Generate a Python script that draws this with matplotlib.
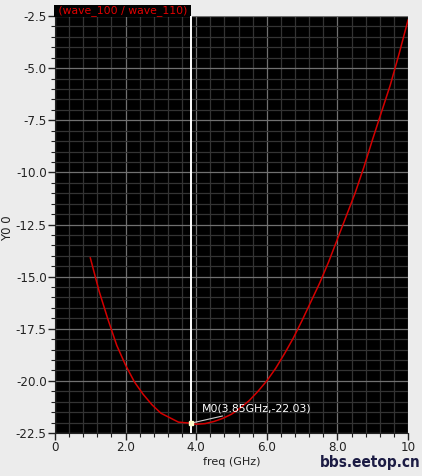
import matplotlib.pyplot as plt
from matplotlib.ticker import MultipleLocator, FixedLocator, FixedFormatter

plt.rcParams['axes.unicode_minus'] = False

# curve
freq = [1.0, 1.25, 1.5, 1.75, 2.0, 2.25, 2.5, 2.75, 3.0, 3.5, 3.85, 4.0, 4.25,
        4.5, 4.75, 5.0, 5.25, 5.5, 5.75, 6.0, 6.25, 6.5, 6.75, 7.0, 7.25, 7.5,
        7.75, 8.0, 8.25, 8.5, 8.75, 9.0, 9.25, 9.5, 9.75, 10.0]
y00 = [-14.1, -15.7, -17.05, -18.3, -19.25, -20.05, -20.65, -21.15, -21.55,
       -21.98, -22.03, -22.08, -22.05, -21.95, -21.8, -21.6, -21.3, -20.95,
       -20.5, -20.0, -19.4, -18.7, -17.95, -17.1, -16.2, -15.3, -14.3, -13.2,
       -12.1, -11.0, -9.75, -8.4, -7.1, -5.8, -4.3, -2.7]

marker_x = 3.85
marker_y = -22.03

xticks = [0, 2, 4, 6, 8, 10]
xlabels = ['0', '2.0', '4.0', '6.0', '8.0', '10']
yticks = [-22.5, -20.0, -17.5, -15.0, -12.5, -10.0, -7.5, -5.0, -2.5]

fig = plt.figure(figsize=(4.22, 4.76), dpi=100, facecolor='#ececec')
ax = fig.add_axes([55/422, 1 - 433/476, 353/422, 417/476])
ax.set_facecolor('black')

ax.plot(freq, y00, color='#d40000', linewidth=1.1, zorder=3)
ax.axvline(marker_x, color='white', linewidth=1.4, zorder=4)
ax.plot([marker_x], [marker_y], 's', color='#ffffcc', markersize=2.5, zorder=5)
ax.annotate(f'M0({marker_x}GHz,{marker_y})', xy=(marker_x, marker_y),
            xytext=(11, 15), textcoords='offset pixels', ha='left', va='center',
            color='white', fontsize=7.8,
            arrowprops=dict(arrowstyle='-', color='#cccccc', linewidth=0.8,
                            shrinkA=0, shrinkB=1))

ax.set_xlim(0, 10)
ax.set_ylim(-22.5, -2.5)
ax.xaxis.set_major_locator(FixedLocator(xticks))
ax.xaxis.set_major_formatter(FixedFormatter(xlabels))
ax.xaxis.set_minor_locator(MultipleLocator(0.4))
ax.yaxis.set_major_locator(FixedLocator(yticks))
ax.yaxis.set_major_formatter(FixedFormatter([f'{v:.1f}' for v in yticks]))
ax.yaxis.set_minor_locator(MultipleLocator(0.5))

ax.grid(True, which='major', color='#707070', linewidth=0.9)
ax.grid(True, which='minor', color='#333333', linewidth=0.9)
ax.set_axisbelow(True)
ax.tick_params(which='major', length=5, width=1, colors='#222222', labelsize=8.6, pad=1)
ax.tick_params(which='minor', length=3, width=0.8, colors='#222222')
for sp in ax.spines.values():
    sp.set_visible(False)
ax.spines['left'].set_visible(True)
ax.spines['bottom'].set_visible(True)
ax.spines['left'].set_color('#222222')
ax.spines['bottom'].set_color('#222222')

ax.set_xlabel('freq (GHz)', fontsize=8, labelpad=2, color='#222222')
ax.set_ylabel('Y0 0', fontsize=8.5, color='#222222')
ax.yaxis.set_label_coords(-0.115, 0.49)

ax.text(0, 1.0, ' (wave_100 / wave_110) ', transform=ax.transAxes, ha='left', va='bottom',
        color='#e00000', fontsize=7.8, clip_on=False,
        bbox=dict(facecolor='black', edgecolor='none', pad=0.4))

fig.text(0.997, 0.012, 'bbs.eetop.cn', ha='right', va='bottom', fontsize=11,
         fontweight='bold', color='#1c1c44', fontstretch='condensed',
         family=['Liberation Sans Narrow', 'DejaVu Sans'])

fig.savefig('out.png', dpi=100, facecolor=fig.get_facecolor())
